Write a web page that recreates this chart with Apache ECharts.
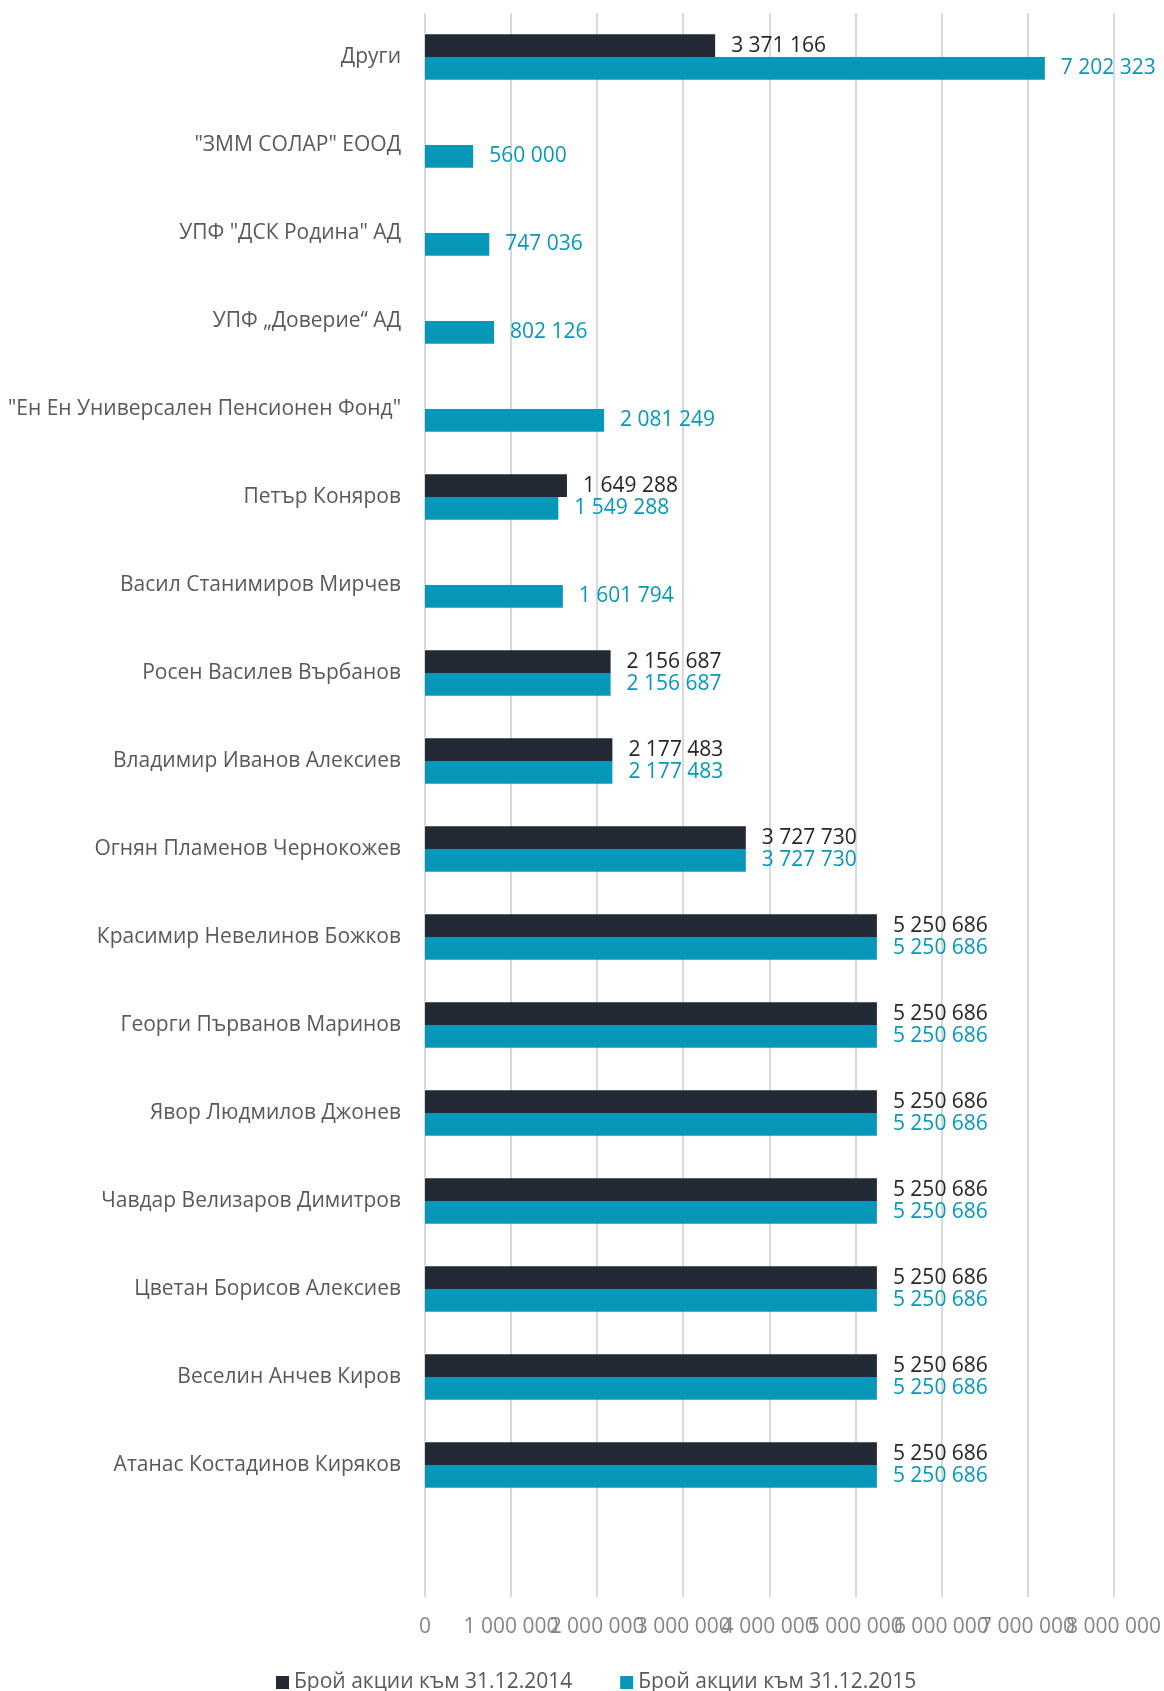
<!DOCTYPE html>
<html>
<head>
<meta charset="utf-8">
<script src="https://cdn.jsdelivr.net/npm/echarts@6/dist/echarts.min.js"></script>
<style>
  html, body { margin: 0; padding: 0; background: #fff; }
  #chart { width: 1164px; height: 1691px; }
</style>
</head>
<body>
<div id="chart"></div>
<script>
// категории (отгоре надолу), последната е празна
const categories = [
  'Други',
  '"ЗММ СОЛАР" ЕООД',
  'УПФ "ДСК Родина" АД',
  'УПФ „Доверие“ АД',
  '"Ен Ен Универсален Пенсионен Фонд"',
  'Петър Коняров',
  'Васил Станимиров Мирчев',
  'Росен Василев Върбанов',
  'Владимир Иванов Алексиев',
  'Огнян Пламенов Чернокожев',
  'Красимир Невелинов Божков',
  'Георги Първанов Маринов',
  'Явор Людмилов Джонев',
  'Чавдар Велизаров Димитров',
  'Цветан Борисов Алексиев',
  'Веселин Анчев Киров',
  'Атанас Костадинов Киряков',
  ''
];

const shares2014 = [3371166, null, null, null, null, 1649288, null, 2156687, 2177483, 3727730,
  5250686, 5250686, 5250686, 5250686, 5250686, 5250686, 5250686, null];
const shares2015 = [7202323, 560000, 747036, 802126, 2081249, 1549288, 1601794, 2156687, 2177483, 3727730,
  5250686, 5250686, 5250686, 5250686, 5250686, 5250686, 5250686, null];

const seriesNames = ['Брой акции към 31.12.2014', 'Брой акции към 31.12.2015'];

const xMax = 8000000;
const xStep = 1000000;

const FONT = 'Open Sans';
const FS = 21;

function fmt(v) {
  return String(v).replace(/\B(?=(\d{3})+(?!\d))/g, ' ');
}

// етикетите по оста се застъпват както в оригинала, затова ги делим на две оси
function xAxisDef(even, showGrid) {
  return {
    type: 'value',
    position: 'bottom',
    min: 0,
    max: xMax,
    interval: xStep,
    axisLine: { show: false },
    axisTick: { show: false },
    splitLine: { show: showGrid, lineStyle: { color: '#d9d9d9', width: 2 } },
    axisLabel: {
      margin: 20,
      fontFamily: FONT,
      fontSize: FS,
      color: '#858585',
      formatter: v => ((Math.round(v / xStep) % 2 === 0) === even ? fmt(v) : '')
    }
  };
}

const myChart = echarts.init(document.getElementById('chart'));
myChart.setOption({
  backgroundColor: '#ffffff',
  animation: false,
  color: ['#242a35', '#0798b9'],
  grid: {
    left: 425,
    right: 49,
    top: 13,
    bottom: 94,
    containLabel: false
  },
  legend: {
    data: seriesNames,
    left: 271,
    top: 1667,
    icon: 'rect',
    itemWidth: 13,
    itemHeight: 13,
    itemGap: 48,
    textStyle: { fontFamily: FONT, fontSize: FS, color: '#595959' }
  },
  xAxis: [xAxisDef(true, true), xAxisDef(false, false)],
  yAxis: {
    type: 'category',
    inverse: true,
    data: categories,
    axisLine: { show: false },
    axisTick: { show: false },
    axisLabel: {
      margin: 24,
      fontFamily: FONT,
      fontSize: FS,
      color: '#595959'
    }
  },
  series: [
    {
      name: seriesNames[0],
      type: 'bar',
      data: shares2014,
      barWidth: 22.7,
      barGap: '0%',
      label: {
        show: true,
        position: 'right',
        distance: 16,
        fontFamily: FONT,
        fontSize: FS,
        color: '#262626',
        formatter: p => fmt(p.value)
      }
    },
    {
      name: seriesNames[1],
      type: 'bar',
      data: shares2015,
      barWidth: 22.7,
      barGap: '0%',
      label: {
        show: true,
        position: 'right',
        distance: 16,
        fontFamily: FONT,
        fontSize: FS,
        color: '#0798b9',
        formatter: p => fmt(p.value)
      }
    }
  ]
});
</script>
</body>
</html>
